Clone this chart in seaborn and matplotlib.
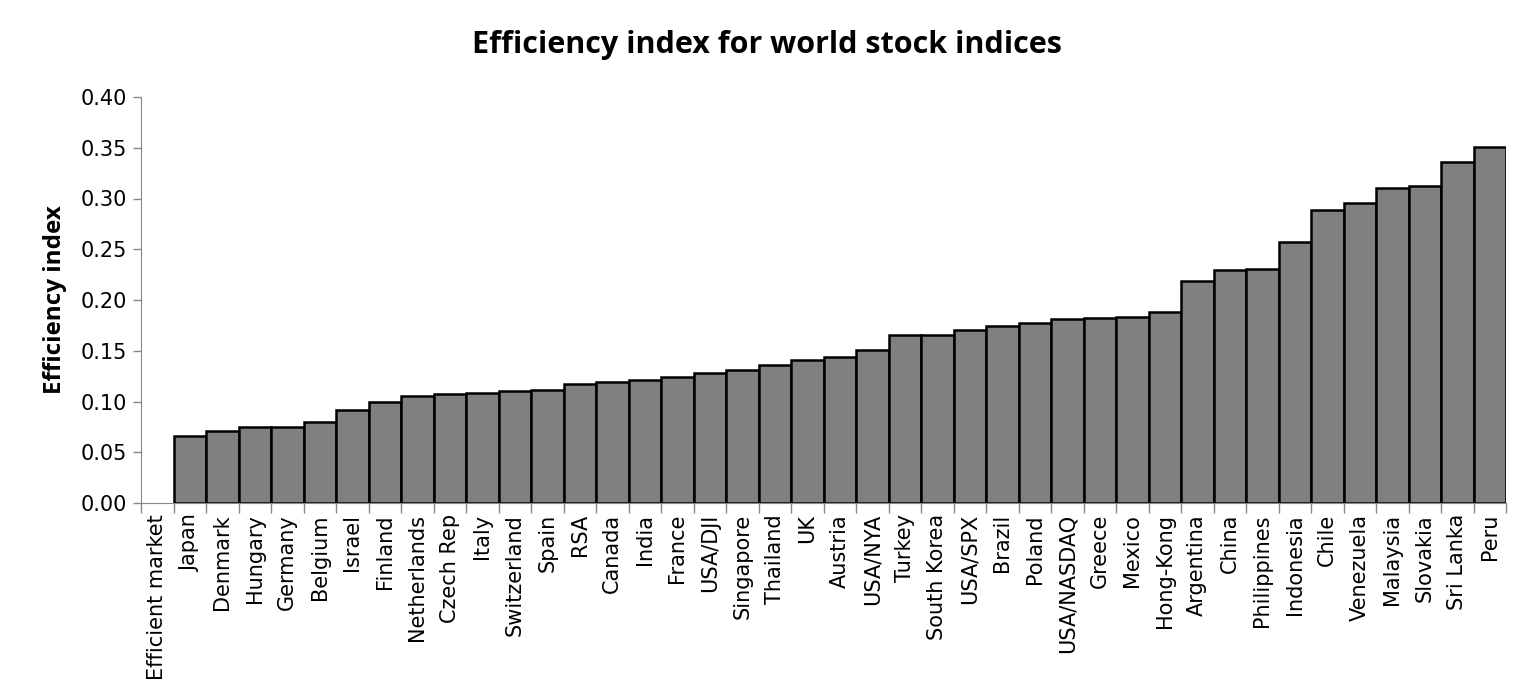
import numpy as np
import pandas as pd
import matplotlib
matplotlib.use("Agg")
import matplotlib.pyplot as plt
import seaborn as sns

# Dados
countries = [
    "Efficient market", "Japan", "Denmark", "Hungary", "Germany", "Belgium",
    "Israel", "Finland", "Netherlands", "Czech Rep", "Italy", "Switzerland",
    "Spain", "RSA", "Canada", "India", "France", "USA/DJI", "Singapore",
    "Thailand", "UK", "Austria", "USA/NYA", "Turkey", "South Korea",
    "USA/SPX", "Brazil", "Poland", "USA/NASDAQ", "Greece", "Mexico",
    "Hong-Kong", "Argentina", "China", "Philippines", "Indonesia", "Chile",
    "Venezuela", "Malaysia", "Slovakia", "Sri Lanka", "Peru",
]
efficiency = [
    0.0, 0.066, 0.071, 0.075, 0.075, 0.080,
    0.092, 0.100, 0.105, 0.107, 0.108, 0.110,
    0.111, 0.117, 0.119, 0.121, 0.124, 0.128, 0.131,
    0.136, 0.141, 0.144, 0.151, 0.166, 0.166,
    0.170, 0.174, 0.177, 0.181, 0.182, 0.183,
    0.188, 0.219, 0.230, 0.231, 0.257, 0.289,
    0.296, 0.310, 0.312, 0.336, 0.351,
]
y_ticks = [0.00, 0.05, 0.10, 0.15, 0.20, 0.25, 0.30, 0.35, 0.40]

df = pd.DataFrame({"country": countries, "efficiency": efficiency})

sns.set_style("white")
plt.rcParams["font.family"] = ["DejaVu Sans"]
plt.rcParams["text.color"] = "black"
plt.rcParams["xtick.labelcolor"] = "black"
plt.rcParams["ytick.labelcolor"] = "black"
plt.rcParams["axes.labelcolor"] = "black"

fig = plt.figure(figsize=(15.33, 6.96), dpi=100)
ax = fig.add_axes([141 / 1533, 1 - 503 / 696, (1506 - 141) / 1533, (503 - 97) / 696])

sns.barplot(data=df, x="country", y="efficiency", color="#808080",
            saturation=1, width=1.0, edgecolor="black", linewidth=1.8, ax=ax)
# barra de altura zero sem contorno
ax.patches[0].set_linewidth(0)

n = len(countries)
ax.set_xlim(-0.5, n - 0.5)
ax.set_ylim(0, 0.40)
ax.set_yticks(y_ticks)
ax.set_yticklabels([f"{v:.2f}" for v in y_ticks], fontsize=15)

ax.set_xticks(np.arange(n))
ax.set_xticklabels(countries, rotation=90, fontsize=15)
ax.set_xticks(np.arange(n + 1) - 0.5, minor=True)
ax.tick_params(axis="x", which="major", length=0, pad=8, labelcolor="black")
ax.tick_params(axis="x", which="minor", length=7, width=1, color="#888888", direction="out", bottom=True)
ax.tick_params(axis="y", length=6, width=1, color="#888888", direction="out", left=True, pad=4,
               labelcolor="black")

for side in ["top", "right"]:
    ax.spines[side].set_visible(False)
ax.spines["left"].set_color("#888888")
ax.spines["bottom"].set_color("#888888")

ax.set_xlabel("")
ax.set_ylabel("Efficiency index", fontsize=17.5, fontweight="bold", family="Open Sans",
              labelpad=10, color="black")
fig.text(0.5, 0.935, "Efficiency index for world stock indices", ha="center", va="center",
         fontsize=22, fontweight="bold", family="Open Sans", color="black")

fig.savefig("out.png", dpi=100)
